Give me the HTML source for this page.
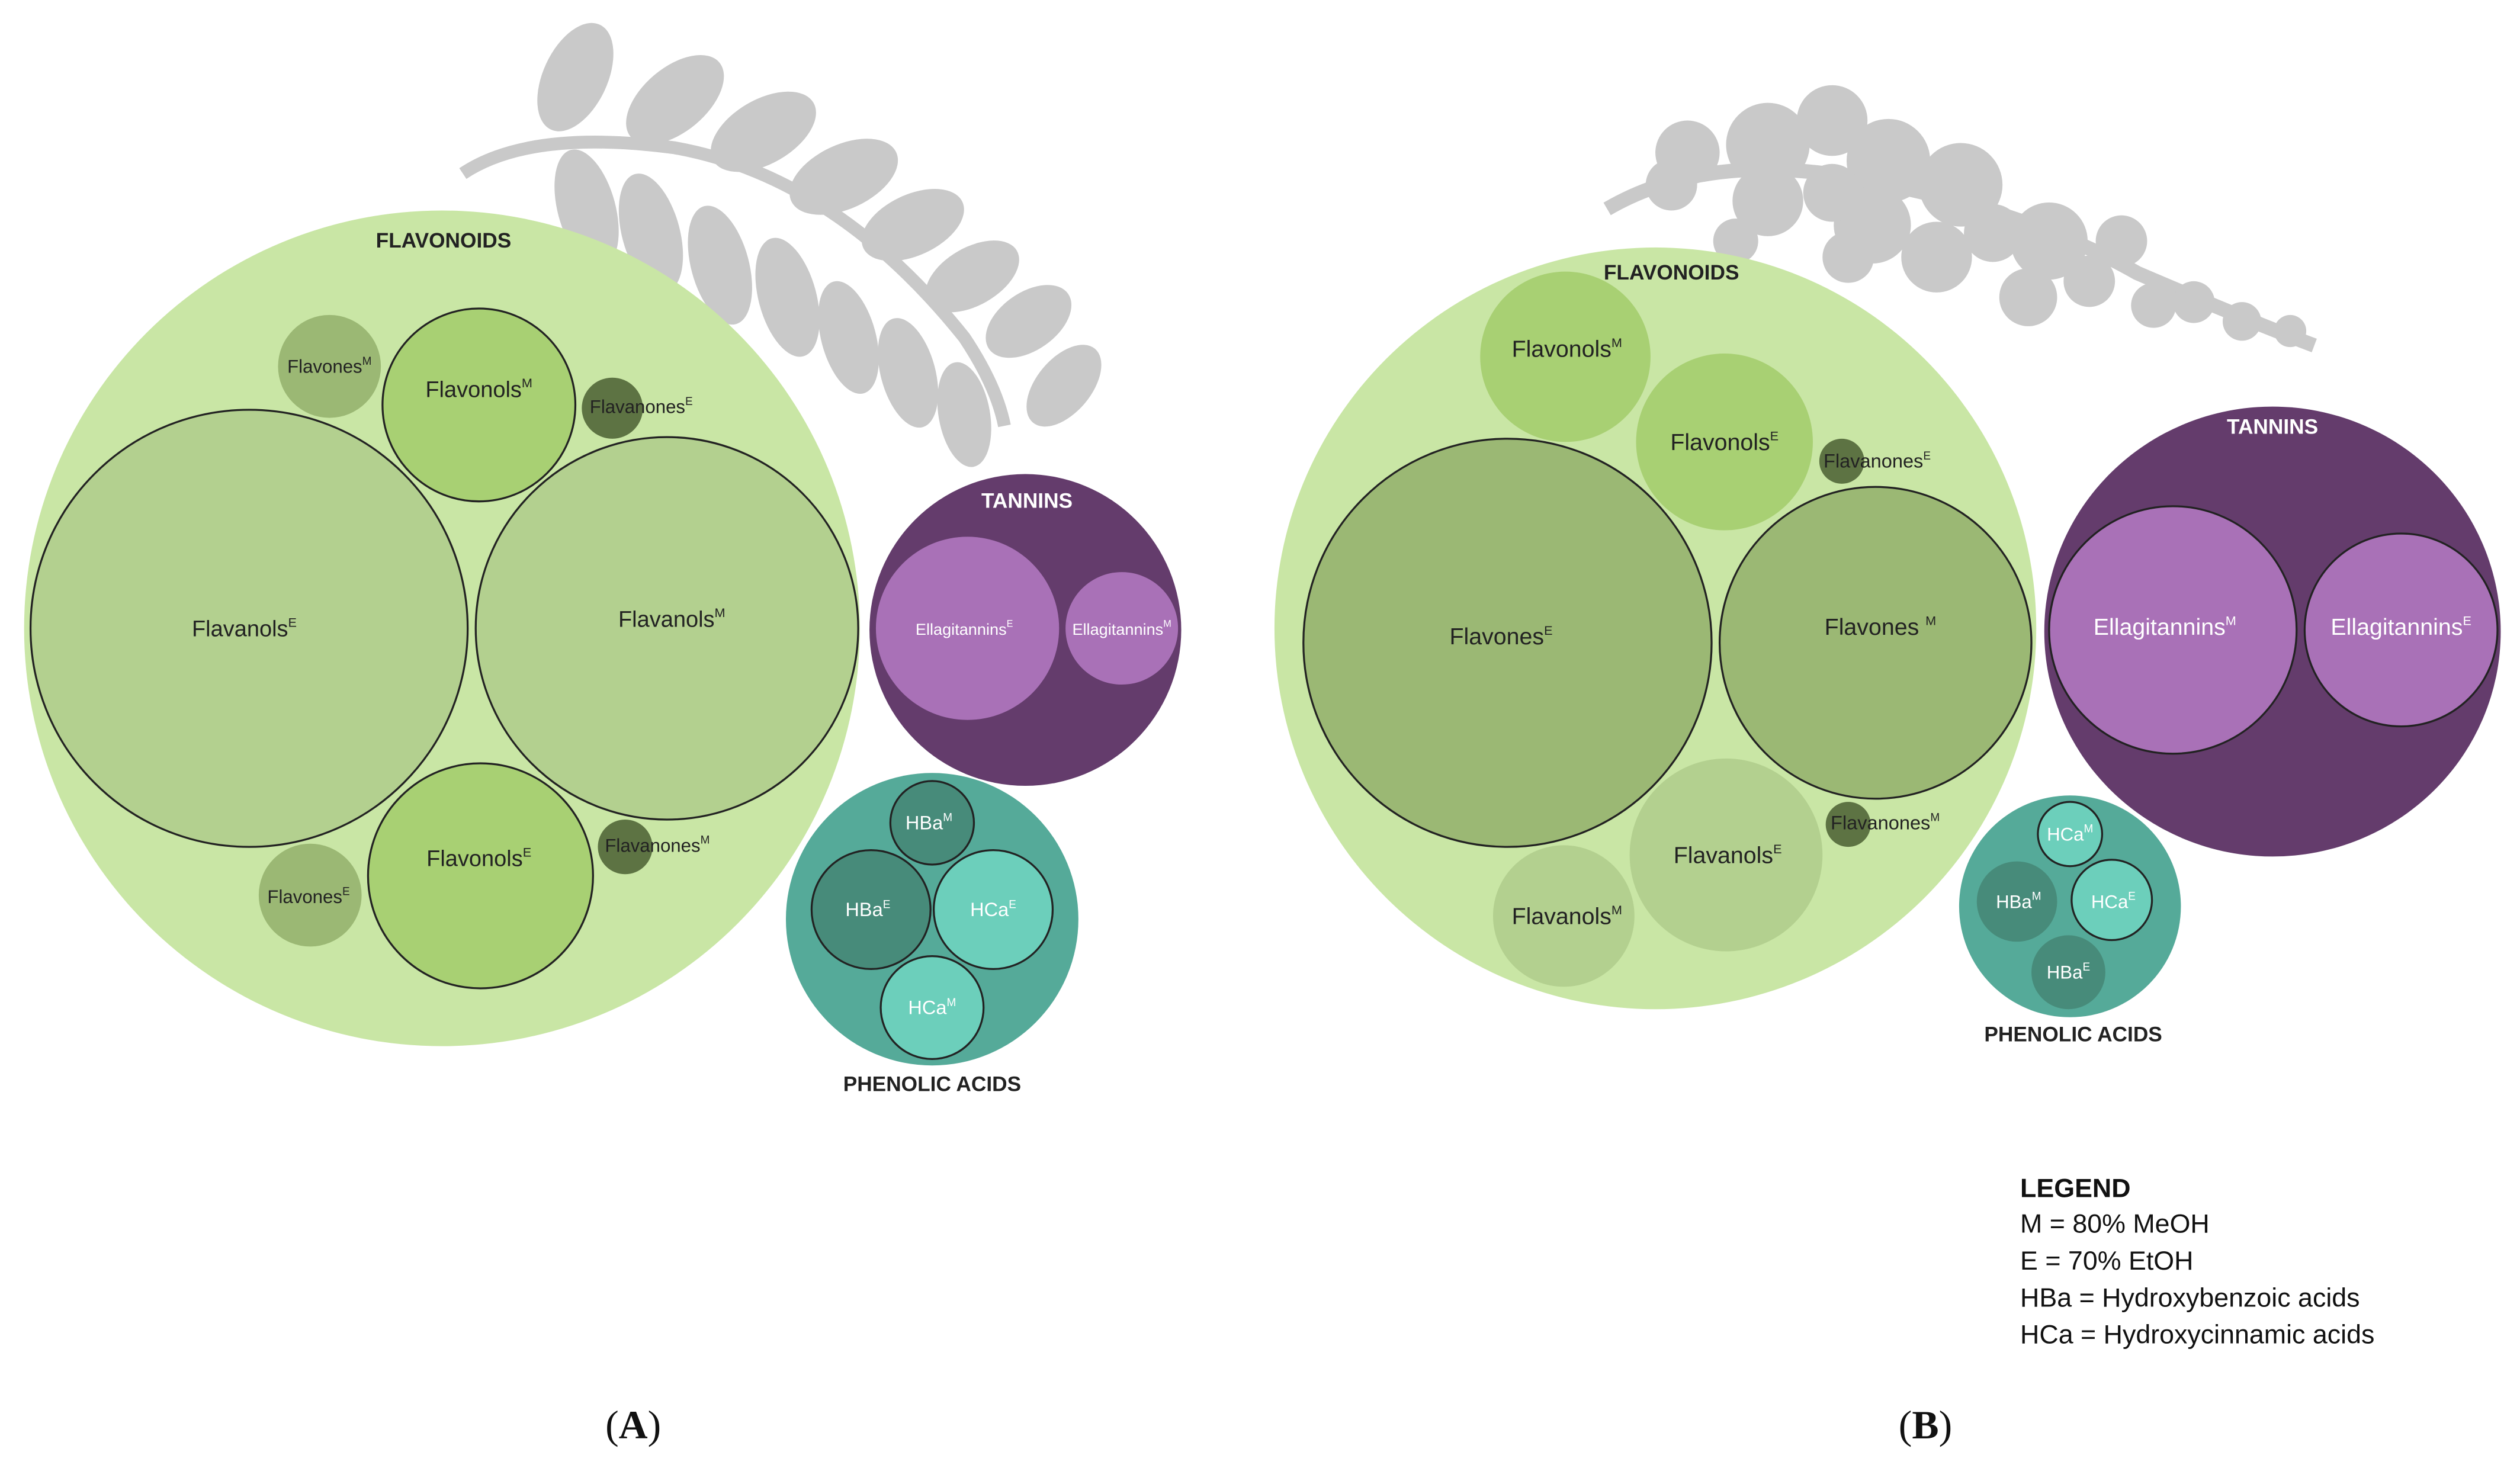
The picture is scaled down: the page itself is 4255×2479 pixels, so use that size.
<!DOCTYPE html>
<html><head><meta charset="utf-8"><style>
html,body{margin:0;padding:0;background:#fff;}
svg{display:block;}
text{font-family:"Liberation Sans",sans-serif;}
</style></head><body>
<svg width="4255" height="2479" viewBox="0 0 1568 913.5" preserveAspectRatio="none" xmlns="http://www.w3.org/2000/svg">
<rect width="1568" height="913.5" fill="#fff"/>
<!-- Leaves A -->
<g fill="#c9c9c9">
<path d="M288,108 Q330,80 420,92 Q520,110 600,210 Q620,240 625,265" stroke="#c9c9c9" stroke-width="8" fill="none"/>
<ellipse cx="358" cy="48" rx="20" ry="36" transform="rotate(25 358 48)"/>
<ellipse cx="420" cy="62" rx="20" ry="36" transform="rotate(50 420 62)"/>
<ellipse cx="475" cy="82" rx="20" ry="36" transform="rotate(60 475 82)"/>
<ellipse cx="525" cy="110" rx="20" ry="36" transform="rotate(65 525 110)"/>
<ellipse cx="568" cy="140" rx="19" ry="34" transform="rotate(65 568 140)"/>
<ellipse cx="605" cy="172" rx="18" ry="32" transform="rotate(60 605 172)"/>
<ellipse cx="640" cy="200" rx="18" ry="30" transform="rotate(55 640 200)"/>
<ellipse cx="662" cy="240" rx="17" ry="30" transform="rotate(40 662 240)"/>
<ellipse cx="365" cy="130" rx="18" ry="38" transform="rotate(-15 365 130)"/>
<ellipse cx="405" cy="145" rx="18" ry="38" transform="rotate(-15 405 145)"/>
<ellipse cx="448" cy="165" rx="18" ry="38" transform="rotate(-15 448 165)"/>
<ellipse cx="490" cy="185" rx="18" ry="38" transform="rotate(-15 490 185)"/>
<ellipse cx="528" cy="210" rx="17" ry="36" transform="rotate(-15 528 210)"/>
<ellipse cx="565" cy="232" rx="17" ry="35" transform="rotate(-15 565 232)"/>
<ellipse cx="600" cy="258" rx="16" ry="33" transform="rotate(-10 600 258)"/>
</g>
<!-- Flowers B -->
<g fill="#c9c9c9">
<path d="M1000,130 Q1060,95 1150,110 Q1260,130 1330,170 Q1400,200 1440,215" stroke="#c9c9c9" stroke-width="9" fill="none"/>
<circle cx="1050" cy="95" r="20"/><circle cx="1040" cy="115" r="16"/>
<circle cx="1100" cy="90" r="26"/><circle cx="1140" cy="75" r="22"/><circle cx="1100" cy="125" r="22"/><circle cx="1080" cy="150" r="14"/>
<circle cx="1175" cy="100" r="26"/><circle cx="1165" cy="140" r="24"/><circle cx="1140" cy="120" r="18"/>
<circle cx="1220" cy="115" r="26"/><circle cx="1205" cy="160" r="22"/><circle cx="1240" cy="145" r="18"/>
<circle cx="1275" cy="150" r="24"/><circle cx="1262" cy="185" r="18"/><circle cx="1300" cy="175" r="16"/>
<circle cx="1320" cy="150" r="16"/><circle cx="1340" cy="190" r="14"/>
<circle cx="1365" cy="188" r="13"/><circle cx="1395" cy="200" r="12"/><circle cx="1425" cy="206" r="10"/>
<circle cx="1150" cy="160" r="16"/>
</g>

<!-- Panel A -->
<circle cx="275" cy="391" r="260" fill="#c9e6a5"/>
<circle cx="155" cy="391" r="136" fill="#b3d08f" stroke="#222" stroke-width="1.2"/>
<circle cx="415" cy="391" r="119" fill="#b3d08f" stroke="#222" stroke-width="1.2"/>
<circle cx="298" cy="252" r="60" fill="#a8d073" stroke="#222" stroke-width="1.2"/>
<circle cx="299" cy="545" r="70" fill="#a8d073" stroke="#222" stroke-width="1.2"/>
<circle cx="205" cy="228" r="32" fill="#9bb874"/>
<circle cx="193" cy="557" r="32" fill="#9bb874"/>
<circle cx="381" cy="254" r="19" fill="#5d7343"/>
<circle cx="389" cy="527" r="17" fill="#5d7343"/>
<circle cx="638" cy="392" r="97" fill="#643c6c"/>
<circle cx="602" cy="391" r="57" fill="#a971b7"/>
<circle cx="698" cy="391" r="35" fill="#a971b7"/>
<circle cx="580" cy="572" r="91" fill="#55aa99"/>
<circle cx="580" cy="512" r="26" fill="#478b7a" stroke="#222" stroke-width="1.2"/>
<circle cx="542" cy="566" r="37" fill="#478b7a" stroke="#222" stroke-width="1.2"/>
<circle cx="618" cy="566" r="37" fill="#6ccfbb" stroke="#222" stroke-width="1.2"/>
<circle cx="580" cy="627" r="32" fill="#6ccfbb" stroke="#222" stroke-width="1.2"/>

<g font-size="14" fill="#222" text-anchor="middle">
<text x="276" y="154" font-weight="bold" font-size="13">FLAVONOIDS</text>
<text x="152" y="396">Flavanols<tspan font-size="8" dy="-6">E</tspan></text>
<text x="418" y="390">Flavanols<tspan font-size="8" dy="-6">M</tspan></text>
<text x="298" y="247">Flavonols<tspan font-size="8" dy="-6">M</tspan></text>
<text x="298" y="539">Flavonols<tspan font-size="8" dy="-6">E</tspan></text>
<text x="205" y="232" font-size="11.5">Flavones<tspan font-size="7" dy="-5">M</tspan></text>
<text x="192" y="562" font-size="11.5">Flavones<tspan font-size="7" dy="-5">E</tspan></text>
<text x="399" y="257" font-size="11.5">Flavanones<tspan font-size="7" dy="-5">E</tspan></text>
<text x="409" y="530" font-size="11.5">Flavanones<tspan font-size="7" dy="-5">M</tspan></text>
<text x="639" y="316" font-weight="bold" font-size="13" fill="#fff">TANNINS</text>
<text x="600" y="395" font-size="10" fill="#fff">Ellagitannins<tspan font-size="6" dy="-5">E</tspan></text>
<text x="698" y="395" font-size="10" fill="#fff">Ellagitannins<tspan font-size="6" dy="-5">M</tspan></text>
<text x="578" y="516" font-size="12" fill="#fff">HBa<tspan font-size="7" dy="-5">M</tspan></text>
<text x="540" y="570" font-size="12" fill="#fff">HBa<tspan font-size="7" dy="-5">E</tspan></text>
<text x="618" y="570" font-size="12" fill="#fff">HCa<tspan font-size="7" dy="-5">E</tspan></text>
<text x="580" y="631" font-size="12" fill="#fff">HCa<tspan font-size="7" dy="-5">M</tspan></text>
<text x="580" y="679" font-weight="bold" font-size="13">PHENOLIC ACIDS</text>
</g>

<!-- Panel B -->
<circle cx="1030" cy="391" r="237" fill="#c9e6a5"/>
<circle cx="938" cy="400" r="127" fill="#9bb874" stroke="#222" stroke-width="1.2"/>
<circle cx="1167" cy="400" r="97" fill="#9bb874" stroke="#222" stroke-width="1.2"/>
<circle cx="974" cy="222" r="53" fill="#a8d073"/>
<circle cx="1073" cy="275" r="55" fill="#a8d073"/>
<circle cx="1074" cy="532" r="60" fill="#b3d08f"/>
<circle cx="973" cy="570" r="44" fill="#b3d08f"/>
<circle cx="1146" cy="287" r="14" fill="#5d7343"/>
<circle cx="1150" cy="513" r="14" fill="#5d7343"/>
<ellipse cx="1414" cy="393" rx="142" ry="140" fill="#643c6c"/>
<circle cx="1352" cy="392" r="77" fill="#a971b7" stroke="#222" stroke-width="1.2"/>
<circle cx="1494" cy="392" r="60" fill="#a971b7" stroke="#222" stroke-width="1.2"/>
<circle cx="1288" cy="564" r="69" fill="#55aa99"/>
<circle cx="1288" cy="519" r="20" fill="#6ccfbb" stroke="#222" stroke-width="1.2"/>
<circle cx="1255" cy="561" r="25" fill="#478b7a"/>
<circle cx="1314" cy="560" r="25" fill="#6ccfbb" stroke="#222" stroke-width="1.2"/>
<circle cx="1287" cy="605" r="23" fill="#478b7a"/>

<g font-size="14.5" fill="#222" text-anchor="middle">
<text x="1040" y="174" font-weight="bold" font-size="13">FLAVONOIDS</text>
<text x="934" y="401">Flavones<tspan font-size="8" dy="-6">E</tspan></text>
<text x="1170" y="395">Flavones <tspan font-size="8" dy="-6">M</tspan></text>
<text x="975" y="222">Flavonols<tspan font-size="8" dy="-6">M</tspan></text>
<text x="1073" y="280">Flavonols<tspan font-size="8" dy="-6">E</tspan></text>
<text x="1075" y="537">Flavanols<tspan font-size="8" dy="-6">E</tspan></text>
<text x="975" y="575">Flavanols<tspan font-size="8" dy="-6">M</tspan></text>
<text x="1168" y="291" font-size="12">Flavanones<tspan font-size="7" dy="-5">E</tspan></text>
<text x="1173" y="516" font-size="12">Flavanones<tspan font-size="7" dy="-5">M</tspan></text>
<text x="1414" y="270" font-weight="bold" font-size="13" fill="#fff">TANNINS</text>
<text x="1347" y="395" fill="#fff">Ellagitannins<tspan font-size="8" dy="-6">M</tspan></text>
<text x="1494" y="395" fill="#fff">Ellagitannins<tspan font-size="8" dy="-6">E</tspan></text>
<text x="1288" y="523" font-size="11.5" fill="#fff">HCa<tspan font-size="7" dy="-5">M</tspan></text>
<text x="1256" y="565" font-size="11.5" fill="#fff">HBa<tspan font-size="7" dy="-5">M</tspan></text>
<text x="1315" y="565" font-size="11.5" fill="#fff">HCa<tspan font-size="7" dy="-5">E</tspan></text>
<text x="1287" y="609" font-size="11.5" fill="#fff">HBa<tspan font-size="7" dy="-5">E</tspan></text>
<text x="1290" y="648" font-weight="bold" font-size="13">PHENOLIC ACIDS</text>
</g>

<!-- Legend -->
<g font-size="16.5" fill="#111">
<text x="1257" y="745" font-weight="bold">LEGEND</text>
<text x="1257" y="767">M = 80% MeOH</text>
<text x="1257" y="790">E = 70% EtOH</text>
<text x="1257" y="813">HBa = Hydroxybenzoic acids</text>
<text x="1257" y="836">HCa = Hydroxycinnamic acids</text>
</g>
<g font-size="25" fill="#111" text-anchor="middle">
<text x="394" y="895" style="font-family:'Liberation Serif',serif">(<tspan font-weight="bold">A</tspan>)</text>
<text x="1198" y="895" style="font-family:'Liberation Serif',serif">(<tspan font-weight="bold">B</tspan>)</text>
</g>
</svg>
</body></html>
